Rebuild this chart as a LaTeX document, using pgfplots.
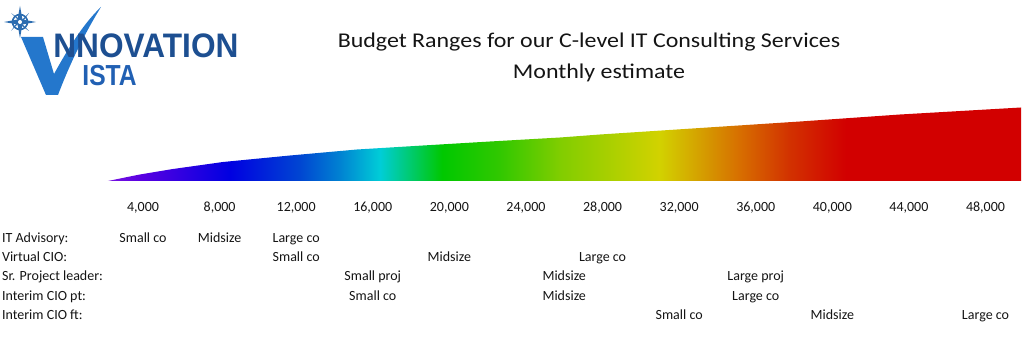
\documentclass[border=0pt]{standalone}
\usepackage{fontspec}
\setmainfont{Carlito}
\newfontfamily\logofont{Liberation Sans}
\usepackage{pgfplots}
\pgfplotsset{compat=1.18}

\definecolor{s0}{RGB}{120,20,225}
\definecolor{s1}{RGB}{90,0,225}
\definecolor{s2}{RGB}{0,0,225}
\definecolor{s3}{RGB}{0,70,210}
\definecolor{s4}{RGB}{0,130,210}
\definecolor{s5}{RGB}{0,205,215}
\definecolor{s6}{RGB}{0,200,0}
\definecolor{s7}{RGB}{50,200,0}
\definecolor{s8}{RGB}{130,205,0}
\definecolor{s9}{RGB}{210,210,0}
\definecolor{s10}{RGB}{215,110,0}
\definecolor{s11}{RGB}{210,50,0}
\definecolor{s12}{RGB}{210,0,0}
\definecolor{logonavy}{RGB}{29,79,145}
\definecolor{logoblue}{RGB}{33,96,179}
\definecolor{checkblue}{RGB}{36,119,204}
\definecolor{compassblue}{RGB}{43,108,176}
\definecolor{txt}{RGB}{20,20,20}

\pgfdeclarehorizontalshading{rainbow}{100bp}{color(0bp)=(s0); color(25bp)=(s0); color(26.75bp)=(s1); color(31.7bp)=(s2); color(35.5bp)=(s3); color(37.7bp)=(s4); color(39.9bp)=(s5); color(43.3bp)=(s6); color(46.5bp)=(s7); color(49.8bp)=(s8); color(55.2bp)=(s9); color(59.6bp)=(s10); color(62.3bp)=(s11); color(65.4bp)=(s12); color(75bp)=(s12); color(100bp)=(s12)}

\newcommand\lab{\fontsize{7.0}{8.5}\selectfont}

\begin{document}
\begin{tikzpicture}
\begin{axis}[
  at={(0,0)}, anchor=south west,
  scale only axis, width=512pt, height=171pt,
  xmin=-3468, xmax=50010, ymin=0, ymax=342,
  clip=false,
  axis line style={draw=none},
  major tick style={draw=none},
  ytick=\empty,
  xtick={4000,8000,...,48000},
  scaled x ticks=false,
  xticklabel style={font=\fontsize{7.0}{8.5}\selectfont, text=txt, anchor=base, yshift=65.15pt},
  /pgf/number format/fixed,
  /pgf/number format/1000 sep={,},
  /pgf/number format/assume math mode=true,
]
\addplot[draw=none, shading=rainbow] coordinates {
  (2172,161) (3060,164.5) (3843,167.5) (5567,173) (8178,180) (11677,186.5)
  (15176,192.5) (18623,196.5) (22122,200.5) (25778,204.5) (27867,207.5)
  (33089,214) (38312,220.5) (43534,227.5) (49854,234.5) (49854,161)
} -- cycle;

\node[anchor=base, inner sep=0, text=txt, font=\fontsize{10.5}{12}\selectfont] at (axis cs:27292,294) {\scalebox{1.14}[1]{Budget Ranges for our C-level IT Consulting Services}};
\node[anchor=base, inner sep=0, text=txt, font=\fontsize{10.5}{12}\selectfont] at (axis cs:27815,263.7) {\scalebox{1.14}[1]{Monthly estimate}};

\begin{scope}[every node/.style={inner sep=0, font=\lab, text=txt}]
\node[anchor=base west] at (axis cs:-3380,99) {IT Advisory:};
\node[anchor=base west] at (axis cs:-3380,80.3) {Virtual CIO:};
\node[anchor=base west] at (axis cs:-3380,61.3) {Sr. Project leader:};
\node[anchor=base west] at (axis cs:-3380,42) {Interim CIO pt:};
\node[anchor=base west] at (axis cs:-3380,23) {Interim CIO ft:};
\node[anchor=base] at (axis cs:4000,99) {Small co};
\node[anchor=base] at (axis cs:8000,99) {Midsize};
\node[anchor=base] at (axis cs:12000,99) {Large co};
\node[anchor=base] at (axis cs:12000,80.3) {Small co};
\node[anchor=base] at (axis cs:20000,80.3) {Midsize};
\node[anchor=base] at (axis cs:28000,80.3) {Large co};
\node[anchor=base] at (axis cs:16000,61.3) {Small proj};
\node[anchor=base] at (axis cs:26000,61.3) {Midsize};
\node[anchor=base] at (axis cs:36000,61.3) {Large proj};
\node[anchor=base] at (axis cs:16000,42) {Small co};
\node[anchor=base] at (axis cs:26000,42) {Midsize};
\node[anchor=base] at (axis cs:36000,42) {Large co};
\node[anchor=base] at (axis cs:32000,23) {Small co};
\node[anchor=base] at (axis cs:40000,23) {Midsize};
\node[anchor=base] at (axis cs:48000,23) {Large co};
\end{scope}
\end{axis}

% logo (decoration), coordinates in pixels from top-left
\begin{scope}[x=0.5pt, y=-0.5pt, shift={(0,171pt)}]
  % compass
  \draw[compassblue, line width=0.8pt] (20,22) circle (7.5);
  \fill[compassblue] (20,6) -- (22.5,19.5) -- (36,22) -- (22.5,24.5) -- (20,38) -- (17.5,24.5) -- (4,22) -- (17.5,19.5) -- cycle;
  \fill[compassblue] (20,22) -- (29,13) -- (21.5,23.5) -- cycle;
  \fill[compassblue] (20,22) -- (11,31) -- (18.5,20.5) -- cycle;
  \fill[compassblue] (20,22) -- (11,13) -- (21.5,20.5) -- cycle;
  \fill[compassblue] (20,22) -- (29,31) -- (18.5,23.5) -- cycle;
  \fill[white] (20,22) circle (2);
  % check-mark V
  \fill[checkblue] (21,37) -- (43,37) -- (54,74) .. controls (70,45) and (85,22) .. (101,7)
     .. controls (88,28) and (72,58) .. (58,95) -- (46,95) -- cycle;
  \node[anchor=base west, inner sep=0, text=logonavy, font=\logofont\bfseries\fontsize{17}{18}\selectfont] at (53,57.5) {\scalebox{0.93}[1]{NNOVATION}};
  \node[anchor=base west, inner sep=0, text=logoblue, font=\logofont\bfseries\fontsize{14.5}{15}\selectfont] at (82,86) {\scalebox{0.85}[1]{ISTA}};
\end{scope}
\end{tikzpicture}
\end{document}
